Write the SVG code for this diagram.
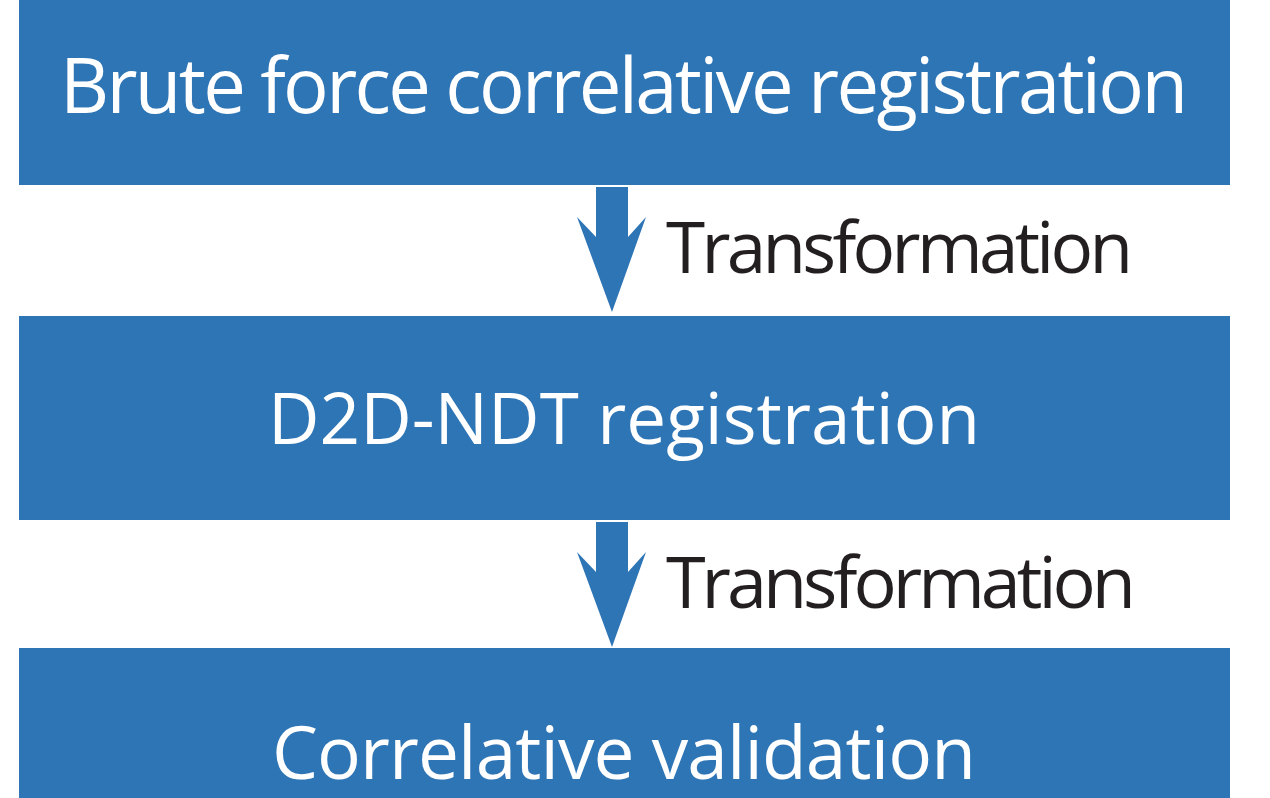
<svg xmlns="http://www.w3.org/2000/svg" width="1270" height="798" viewBox="0 0 1270 798">
<style>
.box{fill:#2E75B6}
.arrow{fill:#2E75B6}
.t{font-family:"Open Sans","Noto Sans","Liberation Sans",sans-serif;fill:#FFFFFF;text-anchor:middle}
.l{font-family:"Open Sans","Noto Sans","Liberation Sans",sans-serif;fill:#231F20}
</style>
<rect width="1270" height="798" fill="#FFFFFF"/>
<g id="node-brute">
<rect class="box" x="19" y="0" width="1211" height="185"/>
<text class="t" x="624" y="113" font-size="76" textLength="1128">Brute force correlative registration</text>
</g>
<g id="node-d2d">
<rect class="box" x="19" y="316" width="1211" height="204"/>
<text class="t" x="624" y="444" font-size="71" textLength="712">D2D-NDT registration</text>
</g>
<g id="node-validation">
<rect class="box" x="19" y="648" width="1211" height="150"/>
<text class="t" x="624" y="779" font-size="73" textLength="704">Correlative validation</text>
</g>
<g id="connectors">
<polygon class="arrow" points="596,187 628,187 628,237 646,217 612,312 577,217 596,237"/>
<text class="l" x="666" y="273" font-size="71" textLength="467">Transformation</text>
<polygon class="arrow" points="596,522 628,522 628,572 646,552 612,647 577,552 596,572"/>
<text class="l" x="666" y="608" font-size="72" textLength="470">Transformation</text>
</g>
</svg>
